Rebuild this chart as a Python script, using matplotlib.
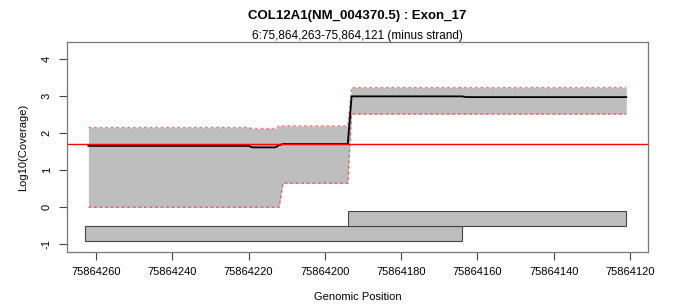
import matplotlib
matplotlib.use("Agg")
import matplotlib.pyplot as plt
from matplotlib.patches import Rectangle

plt.rcParams['font.family'] = ['Liberation Sans', 'DejaVu Sans']

# coverage profile (log10 scale), genomic positions on minus strand
positions = [75864262, 75864220, 75864219, 75864213, 75864212, 75864211,
             75864194, 75864193, 75864164, 75864163, 75864121]
mean_cov = [1.66, 1.66, 1.62, 1.62, 1.68, 1.71, 1.71, 3.00, 3.00, 2.98, 2.98]
upper_cov = [2.16, 2.16, 2.13, 2.13, 2.20, 2.20, 2.20, 3.24, 3.24, 3.24, 3.24]
lower_cov = [0.00, 0.00, 0.00, 0.00, 0.00, 0.65, 0.65, 2.52, 2.52, 2.52, 2.52]
threshold = 1.7

# transcript blocks below the profile
block_start = [75864263, 75864194]
block_end = [75864164, 75864121]
block_low = [-0.9, -0.5]
block_high = [-0.5, -0.1]

xticks = [75864260, 75864240, 75864220, 75864200, 75864180, 75864160, 75864140, 75864120]
yticks = [-1, 0, 1, 2, 3, 4]

fig = plt.figure(figsize=(6.75, 3.08), dpi=100)
ax = fig.add_axes([0.0993, 0.1818, 0.8607, 0.6818])

ax.fill_between(positions, lower_cov, upper_cov, color='#BEBEBE', lw=0)
ax.plot(positions, upper_cov, color='red', alpha=0.5, ls=(0, (2, 2)), lw=1)
ax.plot(positions, lower_cov, color='red', alpha=0.5, ls=(0, (2, 2)), lw=1)
ax.plot(positions, mean_cov, color='black', lw=1.3)
ax.axhline(threshold, color='red', lw=1)

for s, e, lo, hi in zip(block_start, block_end, block_low, block_high):
    ax.add_patch(Rectangle((e, lo), s - e, hi - lo, facecolor='#BEBEBE',
                           edgecolor='#444444', lw=0.8))

ax.set_xlim(75864267.6, 75864115.3)
ax.set_ylim(-1.21, 4.47)
ax.set_xticks(xticks)
ax.set_xticklabels([str(t) for t in xticks])
ax.set_yticks(yticks)
ax.set_yticklabels([str(t) for t in yticks], rotation=90, va='center')
ax.tick_params(direction='out', length=5.5, width=0.8, labelsize=8, color='#444444')
ax.tick_params(axis='x', pad=5)
ax.tick_params(axis='y', pad=5.5)
for sp in ax.spines.values():
    sp.set_color('#777777')
    sp.set_linewidth(0.9)

ax.set_xlabel("Genomic Position", fontsize=8, labelpad=11)
ax.set_ylabel("Log10(Coverage)", fontsize=8, labelpad=10)
fig.text(0.5296, 0.948, "COL12A1(NM_004370.5) : Exon_17", ha='center', va='center',
         fontsize=9.5, fontweight='bold')
fig.text(0.5296, 0.8815, "6:75,864,263-75,864,121 (minus strand)", ha='center',
         va='center', fontsize=8.5)

fig.savefig("out.png", dpi=100)
